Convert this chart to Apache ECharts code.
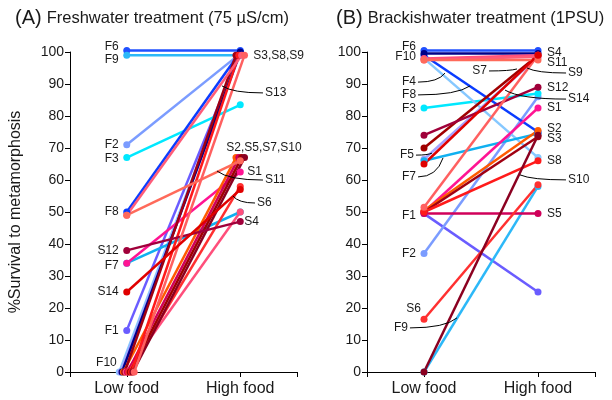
<!DOCTYPE html>
<html><head><meta charset="utf-8">
<script src="https://cdn.jsdelivr.net/npm/echarts@6/dist/echarts.min.js"></script>
<style>html,body{margin:0;padding:0;background:#fff}#c{width:612px;height:400px}</style>
</head><body><div id="c"></div>
<script>
// ---------------- DATA ----------------
const categories = ['Low food', 'High food'];
const yTicks = [0, 10, 20, 30, 40, 50, 60, 70, 80, 90, 100];
const families = ['F1','F2','F3','F4','F5','F6','F7','F8','F9','F10',
                  'S1','S2','S3','S4','S5','S6','S7','S8','S9','S10','S11','S12','S13','S14'];
// (A) Freshwater treatment
const freshLow  = [13, 71, 67, 0, 0, 100.5, 34, 50, 99, 0,
                   34, 0, 0, 0, 0, 0, 0, 0, 49, 0, 49, 38, 0, 25];
const freshHigh = [100, 99.5, 83.5, 100, 99.5, 100.5, 50, 100, 99, 100,
                   62.5, 67, 99, 50, 67, 58, 67, 99, 99, 67, 66, 47, 99, 57];
// (B) Brackishwater treatment
const brackLow  = [49.5, 37, 82.5, 98, 66.5, 100.5, 66, 99, 0, 99.5,
                   50, 50.5, 50, 98, 49.5, 16.5, 70, 50, 97.5, 0, 97.5, 74, 51.5, 65];
const brackHigh = [25, 86, 87, 67, 98.5, 100.5, 74.5, 75, 58, 99.5,
                   82.5, 75.5, 73.5, 99, 49.5, 58.5, 99, 66, 98.5, 74, 97.5, 89, 99, 99];

// ---------------- STYLE ----------------
const palette = ['#6a5cff','#7b9cff','#00e8ff','#86c8ff','#a4a0ff','#2050ff','#10b0f0','#0a3cff','#2cb8f8','#000088',
                 '#ff1493','#ff5a00','#a00012','#ff4f7b','#d0005a','#ff3030','#a00000','#ff1a1a','#ff5c78','#8b0020',
                 '#ff6a5a','#a0003a','#ff6060','#e00000'];
const FONT = '"Liberation Sans", Arial, sans-serif';
const TXT = '#1a1a1a';

// label annotations: [text, anchorX, anchorY, dx, dy, align, leader]
const freshLabels = [
  ['F6',1,100.5,-8,-4,'right',0], ['F9',1,99,-8,4,'right',0], ['F2',1,71,-8,0,'right',0],
  ['F3',1,67,-8,1,'right',0], ['F8',1,50,-8,0,'right',0], ['S12',1,38,-8,0,'right',0],
  ['F7',1,34,-8,2,'right',0], ['S14',1,25,-8,0,'right',0], ['F1',1,13,-8,0,'right',0],
  ['F10',1,0,-10,-9,'right',0],
  ['S3,S8,S9',2,99,13,0,'left',0], ['S2,S5,S7,S10',2,67,-14,-10,'left',0],
  ['S1',2,62.5,7,0,'left',0], ['S4',2,50,4,10,'left',0],
  ['S13',1.839,89.4,43,7,'left',1], ['S11',1.795,62.8,48,9,'left',1], ['S6',1.936,55,24,7,'left',1]
];
const brackLabels = [
  ['F6',1,100.5,-8,-4,'right',0], ['F10',1,99.5,-8,3,'right',0], ['F3',1,82.5,-8,1,'right',0],
  ['F1',1,49.5,-8,2,'right',0], ['F2',1,37,-8,0,'right',0], ['S6',1,16.5,-3,-11,'right',0],
  ['F4',1.184,93.4,-29,9,'right',1], ['F8',1.404,89.4,-54,9,'right',1],
  ['F5',1.07,68.4,-18,2,'right',1], ['F7',1.167,66.9,-27,19,'right',1],
  ['F9',1.289,16.9,-49,10,'right',1], ['S7',1.816,94.7,-30,2,'right',1],
  ['S4',2,99,9,-3,'left',0], ['S11',2,97.5,9,3,'left',0], ['S12',2,89,9,0,'left',0],
  ['S1',2,82.5,9,0,'left',0], ['S2',2,75.5,9,-2,'left',0], ['S3',2,73.5,9,2,'left',0],
  ['S8',2,66,9,0,'left',0], ['S5',2,49.5,9,0,'left',0],
  ['S9',1.904,95,41,5,'left',1], ['S14',1.711,88.1,63,9,'left',1], ['S10',1.842,61.6,48,5,'left',1]
];

// ---------------- BUILD ----------------
const chart = echarts.init(document.getElementById('c'), null, {renderer: 'canvas'});

// small horizontal spread for overlapping points (only in panel A, as in the figure)
function spread(vals, i, step, onlyS) {
  const members = [];
  vals.forEach((v, k) => {
    if (Math.round(v) === Math.round(vals[i]) && (!onlyS || families[k][0] === 'S')) members.push(k);
  });
  if (members.length < 3 || (onlyS && families[i][0] !== 'S')) return 0;
  const r = members.indexOf(i);
  return (r - (members.length - 1) / 2) * step;
}

function buildSeries(low, high, g, jitter) {
  return families.map((f, i) => ({
    type: 'line', name: f + '_' + g, xAxisIndex: g, yAxisIndex: g,
    data: [[1 + (jitter ? spread(low, i, 0.012, false) : 0), low[i]],
           [2 + (jitter ? spread(high, i, 0.025, true) : 0), high[i]]],
    symbol: 'circle', symbolSize: 7, showSymbol: true, clip: false, silent: true,
    lineStyle: {width: 2.5, color: palette[i]}, itemStyle: {color: palette[i]},
    emphasis: {disabled: true}, z: 2
  }));
}

function xAxisCfg(g) {
  return {
    type: 'value', gridIndex: g, min: 0.5, max: 2.5,
    splitLine: {show: false},
    axisLine: {show: true, onZero: false, lineStyle: {color: '#000', width: 1}},
    axisTick: {show: true, customValues: [0.5, 1, 2, 2.5], length: 5, inside: false, lineStyle: {color: '#000'}},
    axisLabel: {customValues: [1, 2], formatter: v => categories[Math.round(v) - 1],
                fontSize: 16, color: TXT, fontFamily: FONT, margin: 9}
  };
}
function yAxisCfg(g, withName) {
  return {
    type: 'value', gridIndex: g, min: 0, max: 100, interval: 10,
    splitLine: {show: false},
    axisLine: {show: true, lineStyle: {color: '#000', width: 1}},
    axisTick: {show: true, length: 5, inside: false, lineStyle: {color: '#000'}},
    axisLabel: {fontSize: 14, color: TXT, fontFamily: FONT, margin: 6,
                customValues: yTicks},
    name: withName ? '%Survival to metamorphosis' : '',
    nameLocation: 'middle', nameRotate: 90, nameGap: 46,
    nameTextStyle: {fontSize: 16, color: TXT, fontFamily: FONT}
  };
}

const titleRich = {a: {fontSize: 20, color: TXT, fontFamily: FONT, fontWeight: 'normal'},
                   b: {fontSize: 16.5, color: TXT, fontFamily: FONT, fontWeight: 'normal'}};
chart.setOption({
  animation: false,
  backgroundColor: '#fff',
  title: [
    {left: 10, top: 3, text: '{a|(A)} {b|Freshwater treatment (75 µS/cm)}',
     textStyle: {fontWeight: 'normal', rich: titleRich}},
    {left: 331, top: 3, text: '{a|(B)} {b|Brackishwater treatment (1PSU)}',
     textStyle: {fontWeight: 'normal', rich: titleRich}}
  ],
  grid: [
    {left: 70, top: 52, width: 227, height: 320},
    {left: 367, top: 52, width: 228, height: 320}
  ],
  xAxis: [xAxisCfg(0), xAxisCfg(1)],
  yAxis: [yAxisCfg(0, true), yAxisCfg(1, false)],
  series: buildSeries(freshLow, freshHigh, 0, true).concat(buildSeries(brackLow, brackHigh, 1, false))
});

function labelGraphics(labels, g) {
  const els = [];
  labels.forEach(([t, ax, ay, dx, dy, align, leader]) => {
    const p = chart.convertToPixel({gridIndex: g}, [ax, ay]);
    const lx = p[0] + dx, ly = p[1] + dy;
    els.push({type: 'text', z: 50, silent: true,
      style: {text: t, x: lx, y: ly, fill: TXT, font: '12px ' + FONT,
              align: align, verticalAlign: 'middle', textAlign: align, textVerticalAlign: 'middle'}});
    if (leader) {
      const ex = align === 'left' ? lx - 2 : lx + 2;
      els.push({type: 'bezierCurve', z: 49, silent: true,
        shape: {x1: p[0], y1: p[1], x2: ex, y2: ly,
                cpx1: p[0] + (ex - p[0]) * 0.25, cpy1: ly},
        style: {stroke: '#000', lineWidth: 1, fill: 'none'}});
    }
  });
  return els;
}

chart.setOption({graphic: labelGraphics(freshLabels, 0).concat(labelGraphics(brackLabels, 1))});
</script>
</body></html>
